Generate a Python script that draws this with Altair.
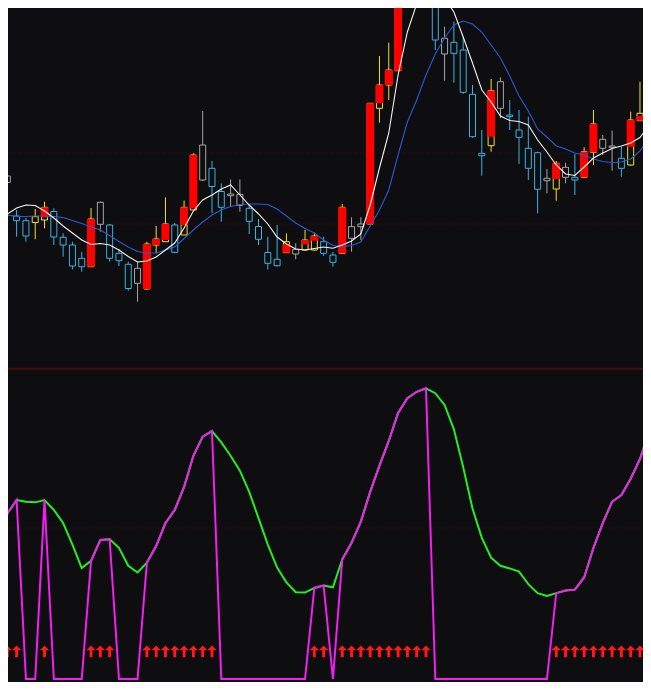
import altair as alt
import pandas as pd

# ---------------- data ----------------
kind = ["Y","G","C","C","Y","Y","C","C","C","C",
        "Y","G","C","C","C","G","Y","Y","Y","C",
        "Y","Y","G","C","C","G","G","C","C","C",
        "C","Y","G","Y","Y","C","C","Y","G","G",
        "Y","Y","Y","Y","Y","G","C","C","G","C",
        "C","C","C","Y","G","C","C","C","C","G",
        "Y","G","C","Y","Y","G","G","C","Y","Y","Y"]
opens = [39.2,42.4,38.4,37.93,37.75,38.0,38.85,36.27,35.5,34.17,
         33.33,39.77,37.5,34.67,33.57,33.17,31.1,35.5,35.83,37.5,
         36.5,39.0,45.5,43.17,40.85,40.6,40.57,39.17,37.35,34.75,
         34.07,34.73,35.07,35.0,35.0,35.83,34.5,34.67,37.33,37.6,
         37.6,49.17,51.5,52.93,60.5,68.0,67.0,60.5,56.17,55.77,
         55.0,50.57,44.67,45.43,51.83,48.5,47.0,45.17,44.73,42.17,
         41.1,43.27,42.27,42.27,44.77,46.07,45.4,44.17,43.5,47.93,48.33]
closes = [42.2,41.75,37.93,36.4,38.33,39.27,36.3,35.5,33.4,33.33,
          38.1,37.57,34.17,33.93,31.15,31.67,35.6,36.1,37.6,34.77,
          39.27,44.5,42.0,41.35,39.27,40.43,39.47,37.87,36.07,33.67,
          33.43,35.83,34.6,36.0,36.4,34.67,33.77,39.27,36.17,37.33,
          49.67,51.5,53.0,61.0,66.0,64.0,62.0,56.0,54.6,54.67,
          50.77,46.33,44.43,50.93,49.17,48.33,46.27,43.17,41.07,41.93,
          43.67,42.27,42.0,44.83,47.6,45.17,45.27,43.17,48.0,48.67,53.4]
highs = [42.8,44.0,39.0,38.2,39.1,39.83,39.17,36.67,35.83,34.8,
         39.2,39.85,37.6,35.1,33.83,33.85,35.83,37.4,40.27,37.7,
         39.95,44.67,48.9,43.9,41.65,42.05,42.05,39.55,38.12,36.33,
         37.5,36.67,35.67,37.0,36.73,36.33,34.8,39.6,38.27,38.27,
         49.7,54.4,55.73,61.5,67.0,69.0,68.0,61.0,57.33,57.83,
         56.33,51.5,47.0,52.1,52.27,50.0,49.0,48.33,44.83,43.1,
         43.9,43.73,44.6,45.27,49.0,46.5,46.93,45.33,48.83,51.83,54.0]
lows = [38.8,41.2,36.33,35.83,36.07,37.17,35.5,34.33,33.07,32.83,
        33.3,36.83,33.83,33.4,30.93,29.83,31.05,34.67,35.83,34.67,
        36.5,39.0,41.9,38.67,37.83,39.4,38.83,36.6,35.5,33.05,
        33.33,34.73,34.07,34.93,34.93,34.4,33.33,34.67,34.83,36.0,
        37.6,47.73,50.0,52.93,60.3,63.5,60.8,55.0,51.93,51.73,
        50.6,46.23,42.43,44.83,48.17,47.0,43.6,42.0,38.67,40.67,
        39.93,41.67,40.5,42.27,43.5,44.5,42.93,42.33,43.43,47.9,48.3]
# red filled sticks drawn over some candles (top, bottom); None = no stick
red_hi = [42.2,None,None,None,None,39.27,None,None,None,None,
          38.1,None,None,None,None,None,35.6,36.1,37.6,None,
          39.27,44.5,None,None,None,None,None,None,None,None,
          None,35.57,None,36.0,36.4,None,None,39.27,None,None,
          49.67,51.5,53.0,61.0,66.0,None,None,None,None,None,
          None,None,None,50.93,None,None,None,None,None,None,
          43.67,None,None,44.83,47.6,None,None,None,48.0,48.4,53.4]
red_lo = [39.2,None,None,None,None,38.27,None,None,None,None,
          33.33,None,None,None,None,None,31.1,35.5,36.0,None,
          37.5,39.17,None,None,None,None,None,None,None,None,
          None,34.73,None,35.57,35.93,None,None,34.67,None,None,
          37.6,49.67,51.5,52.93,60.5,None,None,None,None,None,
          None,None,None,46.33,None,None,None,None,None,None,
          42.1,None,None,42.27,44.77,None,None,None,45.33,47.93,48.33]
ma_short = [37.8,38.6,39.2,39.5,39.45,38.9,38.2,37.4,36.7,36.0,
            35.55,35.65,35.5,35.0,34.35,33.8,33.9,34.3,35.0,35.7,
            37.2,38.9,40.0,40.5,41.1,41.5,40.5,39.5,38.6,37.6,
            36.3,35.6,35.1,35.0,35.15,35.3,35.17,35.5,35.9,36.6,
            39.5,43.2,46.7,52.5,56.8,59.6,61.0,61.2,60.2,58.8,
            56.3,53.7,51.0,49.8,48.4,47.95,47.85,47.5,46.0,44.8,
            43.5,42.6,42.45,43.3,44.2,44.7,45.15,45.4,45.7,46.25,47.5]
ma_long = [38.65,38.5,38.35,38.35,38.4,38.4,38.35,38.25,37.95,37.65,
           37.3,37.0,36.45,35.85,35.3,34.85,34.7,34.7,35.0,35.3,
           36.15,37.0,37.8,38.5,39.0,39.35,39.55,39.6,39.6,39.55,
           39.1,38.4,37.7,37.15,36.7,36.0,35.45,35.35,35.45,35.8,
           37.4,39.0,41.0,44.5,47.8,50.0,52.5,54.6,56.2,57.5,
           57.9,57.6,56.8,55.5,54.2,52.4,50.4,48.9,47.1,46.3,
           45.4,45.1,44.7,44.5,44.1,43.85,43.75,43.8,44.1,44.9,46.2]
osc = [44.4,56.9,61.5,60.9,60.7,61.5,58.1,53.6,46.2,38.1,
       40.6,47.8,48.0,45.1,38.9,36.6,40.0,45.7,53.6,58.1,
       66.0,76.7,83.3,85.2,81.3,76.7,71.6,64.3,55.3,46.2,
       38.3,33.2,29.8,29.7,31.3,32.1,31.5,41.1,46.8,54.1,
       64.3,73.3,81.8,91.4,96.5,98.7,99.9,98.2,94.2,85.8,
       72.8,58.6,48.5,41.7,38.9,38.0,36.9,32.6,29.5,28.5,
       29.5,30.4,30.7,34.9,45.1,53.6,60.9,63.2,68.8,75.6,85.2]
signal = [1,1,1,0,0,1,0,0,0,0,
          1,1,1,0,0,0,1,1,1,1,
          1,1,1,1,0,0,0,0,0,0,
          0,0,0,0,1,1,0,1,1,1,
          1,1,1,1,1,1,1,0,0,0,
          0,0,0,0,0,0,0,0,0,0,
          1,1,1,1,1,1,1,1,1,1,1]
price_grid = [44.7, 37.6]
osc_grid = [51.9]
osc_separator = [106.6]
arrow_level = 9.5

# ---------------- layout / style ----------------
W, H = 635, 674
BG = "#0e0d10"
X0, DX = -2.0, 9.304            # bar spacing of the reference
x_dom = [(8 - X0) / DX, (8 + W - X0) / DX]
p_dom = [60 - (8 + H) / 10, 60 - 8 / 10]
v_dom = [(679 - 8 - H) / 2.91, (679 - 8) / 2.91]

n = len(kind)
df = pd.DataFrame({
    "i": list(range(n)), "kind": kind, "open": opens, "close": closes,
    "high": highs, "low": lows, "red_hi": red_hi, "red_lo": red_lo,
    "ma5": ma_short, "ma10": ma_long,
})
osc_df = pd.DataFrame({"i": list(range(n)), "v": osc, "sig": signal})
osc_df["m"] = [v if s else 0.0 for v, s in zip(osc, signal)]
arrows = osc_df[osc_df["sig"] == 1].assign(a=arrow_level)

xenc = alt.X("i:Q", scale=alt.Scale(domain=x_dom, nice=False, zero=False, padding=0),
             axis=None)
pscale = alt.Scale(domain=p_dom, nice=False, zero=False)
vscale = alt.Scale(domain=v_dom, nice=False, zero=False)
kscale = alt.Scale(domain=["Y", "C", "G"], range=["#f2e21c", "#3bb3e3", "#a6a6a6"])

base = alt.Chart(df)
wicks = base.mark_rule(strokeWidth=1, clip=True).encode(
    x=xenc, y=alt.Y("low:Q", scale=pscale, axis=None), y2="high:Q",
    color=alt.Color("kind:N", scale=kscale, legend=None))
bodies = base.mark_bar(width=6, fill=BG, strokeWidth=1, clip=True).encode(
    x=xenc, y=alt.Y("open:Q", scale=pscale, axis=None), y2="close:Q",
    stroke=alt.Stroke("kind:N", scale=kscale, legend=None))
reds = base.transform_filter("isValid(datum.red_hi)").mark_bar(
    width=8, color="#ff0000", clip=True).encode(
    x=xenc, y=alt.Y("red_lo:Q", scale=pscale, axis=None), y2="red_hi:Q")
ma5 = base.mark_line(color="#f4f4f4", strokeWidth=1.1, clip=True).encode(
    x=xenc, y=alt.Y("ma5:Q", scale=pscale, axis=None))
ma10 = base.mark_line(color="#2a5ad6", strokeWidth=1.1, clip=True).encode(
    x=xenc, y=alt.Y("ma10:Q", scale=pscale, axis=None))
pgrid = alt.Chart(pd.DataFrame({"g": price_grid})).mark_rule(
    color="#3a0c10", strokeWidth=1, strokeDash=[1, 2]).encode(
    y=alt.Y("g:Q", scale=pscale, axis=None))

upper = alt.layer(pgrid, wicks, bodies, reds, ma10, ma5)

vgrid = alt.Chart(pd.DataFrame({"g": osc_grid})).mark_rule(
    color="#3a0c10", strokeWidth=1, strokeDash=[1, 2]).encode(
    y=alt.Y("g:Q", scale=vscale, axis=None))
sep = alt.Chart(pd.DataFrame({"g": osc_separator})).mark_rule(
    color="#4a0c0e", strokeWidth=2).encode(
    y=alt.Y("g:Q", scale=vscale, axis=None))
green = alt.Chart(osc_df).mark_line(color="#22ee22", strokeWidth=2, clip=True).encode(
    x=xenc, y=alt.Y("v:Q", scale=vscale, axis=None))
magenta = alt.Chart(osc_df).mark_line(color="#f020f0", strokeWidth=2, clip=True).encode(
    x=xenc, y=alt.Y("m:Q", scale=vscale, axis=None))
arrow_path = "M0,-1L0.8,-0.2L0.25,-0.2L0.25,1L-0.25,1L-0.25,-0.2L-0.8,-0.2Z"
arr = alt.Chart(arrows).mark_point(shape=arrow_path, filled=True, size=135,
                                   color="#ff1a1a", opacity=1, clip=True).encode(
    x=xenc, y=alt.Y("a:Q", scale=vscale, axis=None))

lower = alt.layer(vgrid, sep, green, magenta, arr)

chart = alt.layer(upper, lower).resolve_scale(y="independent").properties(
    width=W, height=H, padding=0,
    autosize=alt.AutoSizeParams(type="none"),
    background=BG,
).configure_view(strokeWidth=0)

chart.save("out.html", embed_options={"renderer": "svg", "actions": False})
